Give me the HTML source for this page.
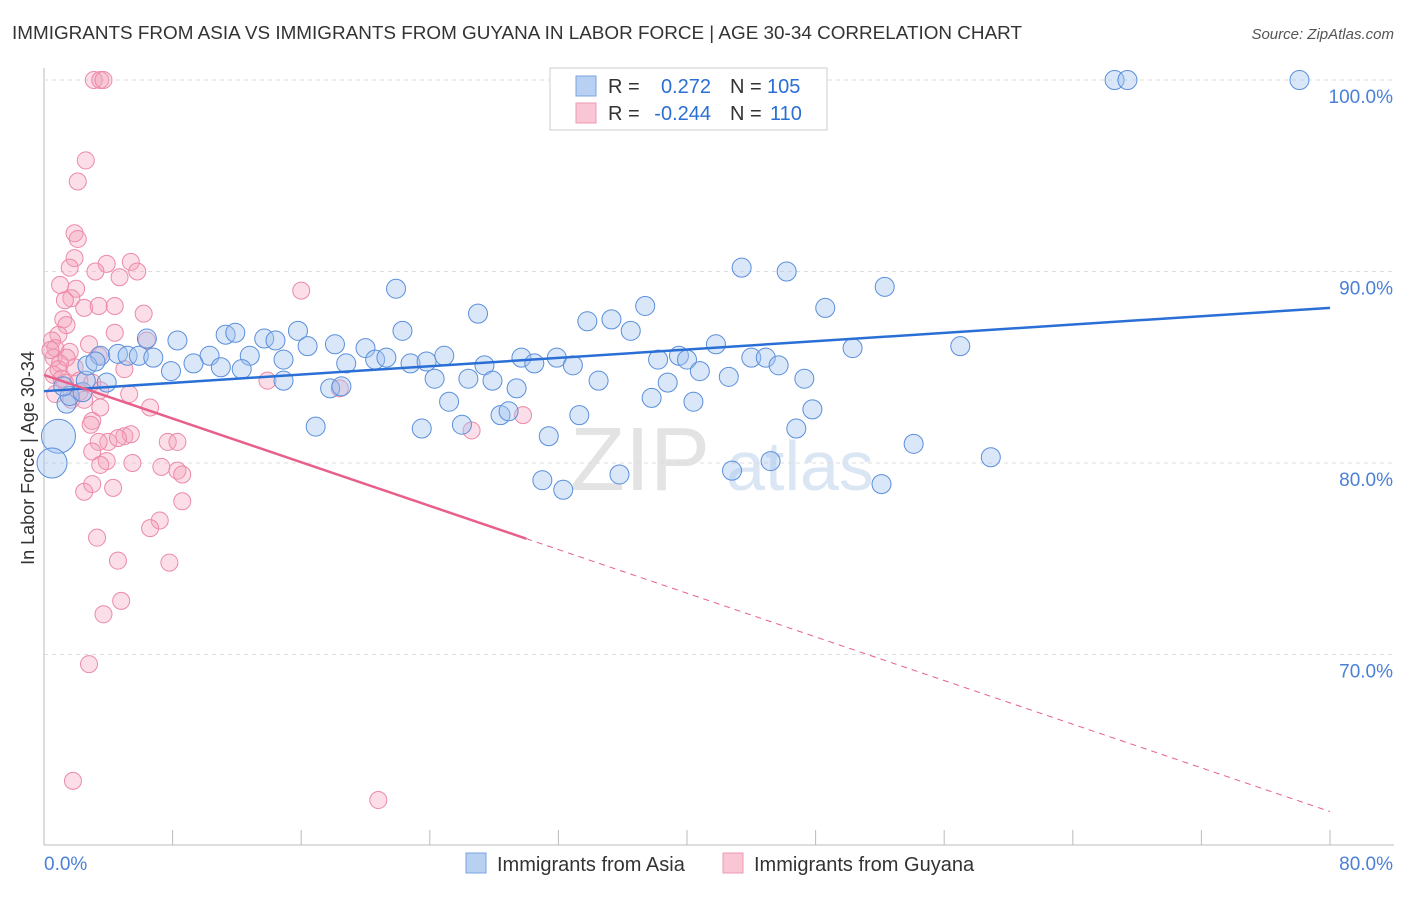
<!DOCTYPE html>
<html><head><meta charset="utf-8"><style>
body{margin:0;background:#fff;font-family:"Liberation Sans",sans-serif}
svg text{font-family:"Liberation Sans",sans-serif}
</style></head><body>
<svg id="c" width="1406" height="892">
<text x="12" y="39" font-size="18" fill="#333" textLength="1010" lengthAdjust="spacingAndGlyphs">IMMIGRANTS FROM ASIA VS IMMIGRANTS FROM GUYANA IN LABOR FORCE | AGE 30-34 CORRELATION CHART</text>
<text x="1394" y="39" font-size="15" fill="#555" font-style="italic" text-anchor="end">Source: ZipAtlas.com</text>
<text x="34" y="458" font-size="18" fill="#333" text-anchor="middle" transform="rotate(-90 34 458)">In Labor Force | Age 30-34</text>
<text x="640" y="490" font-size="90" fill="#e3e3e3" font-family="Liberation Serif" text-anchor="middle">ZIP</text>
<text x="800" y="490" font-size="70" fill="#dbe6f5" text-anchor="middle">atlas</text>
<g id="grid"></g><g id="pts"></g><g id="lines"></g>
<g>
<rect x="550" y="68" width="277" height="62" fill="#fff" stroke="#ccc"/>
<rect x="576" y="76" width="20" height="20" fill="#b8d0f2" stroke="#7aa4e0"/>
<rect x="576" y="103" width="20" height="20" fill="#f8c6d4" stroke="#ee9ab2"/>
<text x="608" y="93" font-size="20" fill="#333">R =</text>
<text x="711" y="93" font-size="20" fill="#2a6fd6" text-anchor="end">0.272</text>
<text x="730" y="93" font-size="20" fill="#333">N =</text>
<text x="767" y="93" font-size="20" fill="#2a6fd6">105</text>
<text x="608" y="120" font-size="20" fill="#333">R =</text>
<text x="711" y="120" font-size="20" fill="#2a6fd6" text-anchor="end">-0.244</text>
<text x="730" y="120" font-size="20" fill="#333">N =</text>
<text x="770" y="120" font-size="20" fill="#2a6fd6">110</text>
</g>
<g>
<rect x="466" y="853" width="20" height="20" fill="#b8d0f2" stroke="#7aa4e0"/>
<text x="497" y="871" font-size="20" fill="#333">Immigrants from Asia</text>
<rect x="723" y="853" width="20" height="20" fill="#f8c6d4" stroke="#ee9ab2"/>
<text x="754" y="871" font-size="20" fill="#333">Immigrants from Guyana</text>
</g>
</svg>
<script>
const yTicks=[100,90,80,70];
const xTickVals=[0,10,20,30,40,50,60,70,80];
const asiaX=[66.6,67.4,78.1,43.4,46.2,52.3,21.9,27.0,37.4,48.6,33.8,35.3,36.5,15.8,22.3,11.3,11.9,8.3,6.4,13.7,14.4,57.0,50.3,41.8,16.4,18.1,20.0,10.3,12.8,3.5,4.6,5.2,5.9,6.8,9.3,11.0,7.9,12.3,14.9,18.8,20.6,21.3,22.8,23.8,24.9,27.4,29.7,31.9,30.5,32.9,38.2,39.5,40.0,44.0,44.9,45.7,40.8,42.6,47.3,24.3,26.4,27.9,29.4,34.5,38.8,14.9,17.8,18.5,25.2,37.8,40.4,47.8,28.4,28.9,33.3,23.5,26.0,31.4,46.8,16.9,54.1,58.9,45.2,42.8,35.8,31.0,32.3,52.1,1.4,1.6,2.4,2.6,1.2,2.7,3.2,3.9,0.9,0.5];
const asiaY=[100,100,100,90.2,90.0,89.2,89.1,87.8,88.2,88.1,87.4,87.5,86.9,86.9,86.9,86.7,86.8,86.4,86.5,86.5,86.4,86.1,86.0,86.2,86.1,86.2,86.0,85.6,85.6,85.6,85.7,85.6,85.6,85.5,85.2,85.0,84.8,84.9,85.4,85.2,85.4,85.5,85.2,85.3,85.6,85.1,85.5,85.5,85.2,85.1,85.4,85.6,85.4,85.5,85.5,85.1,84.8,84.5,84.4,84.4,84.4,84.3,83.9,84.3,84.2,84.3,83.9,84.0,83.2,83.4,83.2,82.8,82.5,82.7,82.5,81.8,82.0,81.4,81.8,81.9,81.0,80.3,80.1,79.6,79.4,79.1,78.6,78.9,83.1,83.5,83.7,84.3,84.0,85.1,85.3,84.2,81.4,80.0];
const guyX=[3.1,3.5,3.7,2.6,2.1,1.9,2.1,1.9,3.9,5.4,5.8,1.6,3.2,4.7,16.0,2.0,1.7,2.5,3.4,4.4,6.2,1.2,1.4,4.4,6.4,0.9,0.5,0.7,1.6,2.8,3.4,0.6,1.0,1.9,0.6,2.2,1.3,3.0,5.0,13.9,18.4,3.5,0.7,1.7,2.2,2.5,5.3,3.5,6.6,3.0,2.9,4.0,5.0,5.4,4.6,3.4,7.7,8.3,29.8,26.6,3.0,3.9,3.5,5.5,7.3,8.3,8.6,2.5,3.0,4.3,8.6,7.2,6.6,3.3,4.6,7.8,4.8,3.7,2.8,1.8,20.8,1.3,1.0,0.9,1.4,0.4,1.1];
const guyY=[100,100,100,95.8,94.7,92.0,91.7,90.7,90.4,90.5,90.0,90.2,90.0,89.7,89.0,89.1,88.6,88.1,88.2,88.2,87.8,87.5,87.2,86.8,86.4,86.7,86.4,86.0,85.8,86.2,85.6,85.5,85.2,85.0,84.6,84.3,84.2,84.2,84.9,84.3,83.9,83.8,83.6,83.3,83.7,83.3,83.6,82.9,82.9,82.2,82.0,81.1,81.4,81.5,81.3,81.1,81.1,81.1,82.5,81.7,80.6,80.1,79.9,80.0,79.8,79.6,79.4,78.5,78.9,78.7,78.0,77.0,76.6,76.1,74.9,74.8,72.8,72.1,69.5,63.4,62.4,88.5,89.3,84.9,85.5,85.9,84.4];
const asiaTrend=[83.75,88.1];
const guyTrend=[84.6,61.8];
const guySolidEnd=30;
const NS='http://www.w3.org/2000/svg';
const X=v=>44+v*(1286/80), Y=v=>80+(100-v)*19.15;
function mk(p,t,a){const e=document.createElementNS(NS,t);for(const k in a)e.setAttribute(k,a[k]);p.appendChild(e);return e;}
const grid=document.getElementById('grid');
const ax=mk(grid,'line',{x1:44,y1:68,x2:44,y2:845,stroke:'#bbb'});


const bx=mk(grid,'line',{x1:44,y1:845,x2:1394,y2:845,stroke:'#bbb'});


yTicks.forEach(t=>{
 const g=mk(grid,'line',{x1:44,x2:1394,y1:Y(t),y2:Y(t),stroke:'#ddd','stroke-dasharray':'4 4'});
 
 
 const l=mk(grid,'text',{x:1393,y:Y(t)+23,'font-size':19,fill:'#4a80d6','text-anchor':'end'});
 l.textContent=t.toFixed(1)+'%';
 
 
});
for(let i=0;i<=10;i++){const x=44+i*128.6;const t=mk(grid,'line',{x1:x,x2:x,y1:830,y2:845,stroke:'#bbb'});
 
 }
const x0=mk(grid,'text',{x:44,y:870,'font-size':19,fill:'#4a80d6'});x0.textContent='0.0%';


const x1=mk(grid,'text',{x:1393,y:870,'font-size':19,fill:'#4a80d6','text-anchor':'end'});x1.textContent='80.0%';


const pts=document.getElementById('pts');
guyX.forEach((v,i)=>{const c=mk(pts,'circle',{cx:X(v),cy:Y(guyY[i]),r:8.5,fill:'rgba(244,160,185,0.35)',stroke:'#ec8aa8','stroke-width':1});
 
 });
asiaX.forEach((v,i)=>{const r=i>=asiaX.length-2?(i==asiaX.length-2?17:15):9.5;
 const c=mk(pts,'circle',{cx:X(v),cy:Y(asiaY[i]),r:r,fill:'rgba(160,195,240,0.4)',stroke:'#5b8fdb','stroke-width':1});
 
 });
const L=document.getElementById('lines');
const bl=mk(L,'line',{x1:X(0),y1:Y(asiaTrend[0]),x2:X(80),y2:Y(asiaTrend[1]),stroke:'#2a6fd6','stroke-width':2.5});


const gy=v=>guyTrend[0]+(guyTrend[1]-guyTrend[0])*v/80;
const pl=mk(L,'line',{x1:X(0),y1:Y(gy(0)),x2:X(guySolidEnd),y2:Y(gy(guySolidEnd)),stroke:'#e8608a','stroke-width':2.5});


const pd=mk(L,'line',{x1:X(guySolidEnd),y1:Y(gy(guySolidEnd)),x2:X(80),y2:Y(gy(80)),stroke:'#e8608a','stroke-width':1,'stroke-dasharray':'6 5'});


</script>
</body></html>
